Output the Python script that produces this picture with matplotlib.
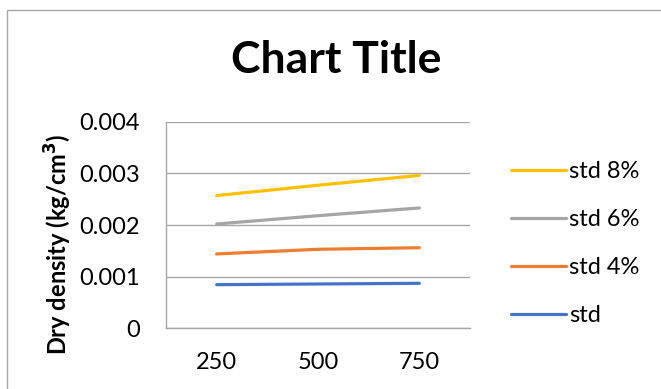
import matplotlib
matplotlib.use("Agg")
import matplotlib.pyplot as plt
from matplotlib.patches import Rectangle

plt.rcParams['font.family'] = ['Lato', 'DejaVu Sans']

loads = ['250', '500', '750']
std = [0.000845, 0.000858, 0.000871]
std_4 = [0.00144, 0.00153, 0.00156]
std_6 = [0.00202, 0.00218, 0.00233]
std_8 = [0.00257, 0.00277, 0.00296]

series = [
    ('std', std, '#4472C4'),
    ('std 4%', std_4, '#ED7D31'),
    ('std 6%', std_6, '#A5A5A5'),
    ('std 8%', std_8, '#FFC000'),
]

fig = plt.figure(figsize=(6.61, 3.89), dpi=100)
ax = fig.add_axes([166 / 661, 1 - 328.3 / 389, 304 / 661, 206.6 / 389])

x = range(len(loads))
handles = []
for name, vals, col in series:
    h, = ax.plot(x, vals, color=col, lw=2.3, solid_capstyle='round', label=name)
    handles.append(h)

ax.set_xlim(-0.5, 2.5)
ax.set_ylim(0, 0.004)
ax.set_yticks([0, 0.001, 0.002, 0.003, 0.004])
ax.set_yticklabels(['0', '0.001', '0.002', '0.003', '0.004'])
ax.set_xticks(list(x))
ax.set_xticklabels(loads)
ax.tick_params(length=0, labelsize=17, colors='#000000')
ax.tick_params(axis='y', pad=19)
ax.tick_params(axis='x', pad=17)
ax.grid(axis='y', color='#A6A6A6', lw=1)
ax.set_axisbelow(True)
for s in ['top', 'right']:
    ax.spines[s].set_visible(False)
for s in ['left', 'bottom']:
    ax.spines[s].set_color('#A6A6A6')
    ax.spines[s].set_linewidth(1)

fig.text(58 / 661, 1 - 244.5 / 389, 'Dry density (kg/cm$^\\mathbf{3}$)', rotation=90,
         ha='center', va='center', fontsize=17, fontweight='bold')
fig.text(336 / 661, 1 - 60 / 389, 'Chart Title', ha='center', va='center',
         fontsize=32, fontweight='bold')

fig.legend(handles[::-1], [h.get_label() for h in handles[::-1]],
           loc='center left', bbox_to_anchor=(490 / 661, 1 - 243.5 / 389),
           frameon=False, fontsize=17, handlelength=2.3, handletextpad=0.15,
           labelspacing=1.15)

fig.patches.append(Rectangle((6.5 / 661, -0.05), 1.1, 1 - 9.5 / 389 + 0.05,
                             transform=fig.transFigure, fill=False,
                             edgecolor='#A6A6A6', lw=1))

fig.savefig('out.png', dpi=100)
